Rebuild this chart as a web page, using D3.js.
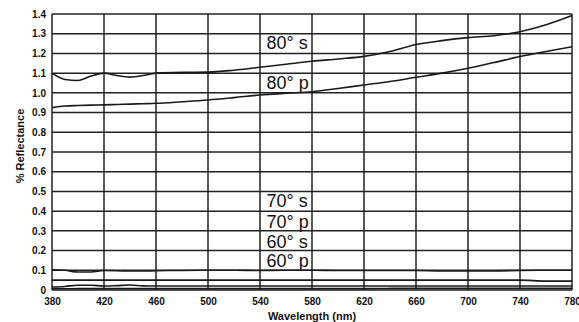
<!DOCTYPE html>
<html>
<head>
<meta charset="utf-8">
<script src="https://cdn.jsdelivr.net/npm/d3@7/dist/d3.min.js"></script>
<style>
  html, body { margin: 0; padding: 0; background: #fff; }
  svg { display: block; font-family: "Liberation Sans", Arial, sans-serif; }
</style>
</head>
<body>
<svg id="chart" width="579" height="322"></svg>
<script>
// Wavelength samples (nm)
const wavelengths = [380, 390, 400, 410, 420, 430, 440, 450, 460, 480, 500, 520, 540, 560, 580, 600, 620, 640, 660, 680, 700, 720, 740, 760, 780];

// Reflectance (%) per polarisation / angle of incidence
const s80 = [1.100, 1.068, 1.063, 1.085, 1.100, 1.088, 1.080, 1.088, 1.100, 1.104, 1.105, 1.115, 1.130, 1.145, 1.160, 1.172, 1.185, 1.210, 1.245, 1.265, 1.280, 1.290, 1.310, 1.345, 1.392];
const p80 = [0.925, 0.933, 0.936, 0.938, 0.939, 0.941, 0.943, 0.945, 0.947, 0.955, 0.964, 0.976, 0.989, 0.998, 1.006, 1.022, 1.040, 1.058, 1.079, 1.100, 1.125, 1.154, 1.184, 1.210, 1.234];
const s70 = [0.103, 0.100, 0.091, 0.091, 0.099, 0.098, 0.096, 0.096, 0.098, 0.099, 0.100, 0.100, 0.099, 0.100, 0.100, 0.099, 0.099, 0.099, 0.099, 0.097, 0.097, 0.097, 0.099, 0.100, 0.100];
const p70 = [0.050, 0.050, 0.050, 0.050, 0.050, 0.050, 0.050, 0.050, 0.050, 0.050, 0.050, 0.050, 0.050, 0.050, 0.050, 0.050, 0.050, 0.050, 0.050, 0.050, 0.050, 0.050, 0.050, 0.045, 0.045];
const s60 = [0.015, 0.018, 0.024, 0.024, 0.020, 0.022, 0.025, 0.021, 0.020, 0.020, 0.020, 0.020, 0.020, 0.020, 0.020, 0.020, 0.020, 0.020, 0.020, 0.020, 0.020, 0.020, 0.020, 0.020, 0.020];
const p60 = [0.006, 0.006, 0.007, 0.007, 0.007, 0.007, 0.007, 0.007, 0.007, 0.007, 0.007, 0.007, 0.007, 0.007, 0.007, 0.007, 0.007, 0.008, 0.008, 0.008, 0.008, 0.008, 0.008, 0.008, 0.008];

const seriesList = [s80, p80, s70, p70, s60, p60];

// Curve captions and the reflectance level each sits at
const captions = ["80° s", "80° p", "70° s", "70° p", "60° s", "60° p"];
const captionLevels = [1.225, 1.022, 0.42, 0.317, 0.215, 0.115];

// Axis ticks
const xTicks = [380, 420, 460, 500, 540, 580, 620, 660, 700, 740, 780];
const yTicks = [0, 0.1, 0.2, 0.3, 0.4, 0.5, 0.6, 0.7, 0.8, 0.9, 1.0, 1.1, 1.2, 1.3, 1.4];
const yTickLabels = ["0", "0.1", "0.2", "0.3", "0.4", "0.5", "0.6", "0.7", "0.8", "0.9", "1.0", "1.1", "1.2", "1.3", "1.4"];

const svg = d3.select("#chart");
const margin = { left: 52, right: 7, top: 14, bottom: 32 };
const W = 579, H = 322;

const x = d3.scaleLinear().domain([380, 780]).range([margin.left, W - margin.right]);
const y = d3.scaleLinear().domain([0, 1.4]).range([H - margin.bottom, margin.top]);

// Grid
const grid = svg.append("g");
grid.selectAll("line.v").data(xTicks).join("line")
  .attr("x1", d => x(d)).attr("x2", d => x(d))
  .attr("y1", y(0)).attr("y2", y(1.4))
  .attr("stroke", "#222").attr("stroke-width", 1.5);
grid.selectAll("line.h").data(yTicks).join("line")
  .attr("x1", x(380)).attr("x2", x(780))
  .attr("y1", d => y(d)).attr("y2", d => y(d))
  .attr("stroke", "#222").attr("stroke-width", 1.5);

// Axes (labels only; grid supplies the lines)
const xAxis = d3.axisBottom(x).tickValues(xTicks).tickSize(0).tickPadding(8).tickFormat(d3.format("d"));
const yAxis = d3.axisLeft(y).tickValues(yTicks).tickSize(0).tickPadding(6).tickFormat((d, i) => yTickLabels[i]);

const gx = svg.append("g").attr("transform", `translate(0,${y(0)})`).call(xAxis);
const gy = svg.append("g").attr("transform", `translate(${x(380)},0)`).call(yAxis);
[gx, gy].forEach(g => {
  g.select(".domain").remove();
  g.selectAll("text").attr("font-size", 10).attr("font-weight", "bold")
    .attr("font-family", "'Liberation Sans', Arial, sans-serif").attr("fill", "#111");
});

// Curves
const line = d3.line()
  .x((d, i) => x(wavelengths[i]))
  .y(d => y(d))
  .curve(d3.curveMonotoneX);

svg.append("g").selectAll("path").data(seriesList).join("path")
  .attr("d", d => line(d))
  .attr("fill", "none")
  .attr("stroke", "#1a1a1a")
  .attr("stroke-width", 1.6);

// Curve captions
svg.append("g").selectAll("text").data(captions).join("text")
  .attr("x", x(545))
  .attr("y", (d, i) => y(captionLevels[i]))
  .attr("font-size", 18)
  .attr("fill", "#111")
  .text(d => d);

// Axis titles
svg.append("text")
  .attr("x", (x(380) + x(780)) / 2).attr("y", 320)
  .attr("text-anchor", "middle")
  .attr("font-size", 11).attr("font-weight", "bold").attr("fill", "#111")
  .text("Wavelength (nm)");

svg.append("text")
  .attr("transform", `translate(24,${(y(0) + y(1.4)) / 2 - 6}) rotate(-90)`)
  .attr("text-anchor", "middle")
  .attr("font-size", 11).attr("font-weight", "bold").attr("fill", "#111")
  .text("% Reflectance");
</script>
</body>
</html>
